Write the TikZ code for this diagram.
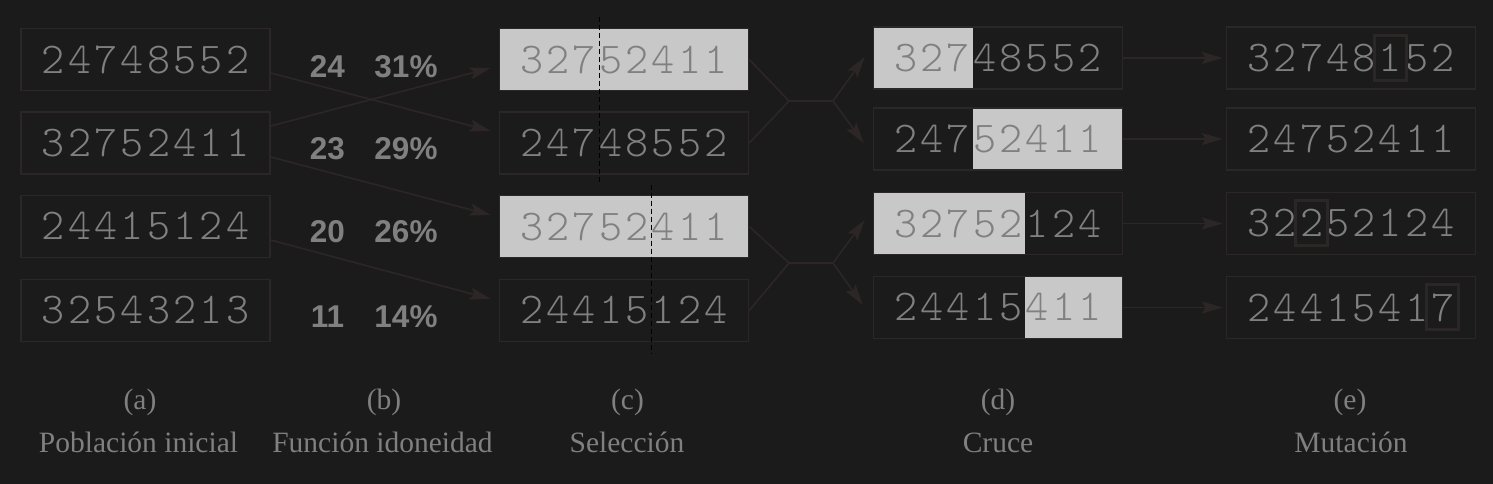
\documentclass[tikz,border=0pt]{standalone}
\usepackage{fontspec}
\setmainfont{Liberation Serif}
\setsansfont{Liberation Sans}
\newfontfamily\genfont[LetterSpace=7.3]{lmmonolt10-regular.otf}
\usetikzlibrary{arrows.meta, positioning, backgrounds}

\definecolor{bgc}{HTML}{1B1B1B}
\definecolor{edgec}{HTML}{2B2727}
\definecolor{arrc}{HTML}{2D2626}
\definecolor{hlc}{HTML}{C8C8C8}
\definecolor{txtc}{HTML}{808080}

\begin{document}
\begin{tikzpicture}[x=1pt, y=1pt, >=Stealth,
      gene/.style={draw=edgec, line width=1.5pt, minimum width=249pt, minimum height=62pt,
                   inner sep=0pt, text=txtc, font=\genfont\fontsize{44}{50}\selectfont},
      genehl/.style={gene, fill=hlc},
      fitv/.style={anchor=base, text=txtc, font=\sffamily\bfseries\fontsize{31.5}{36}\selectfont},
      capt/.style={anchor=base, text=txtc, font=\fontsize{29.5}{34}\selectfont},
      arr/.style={-{Stealth[length=21pt, width=12pt, inset=4pt]}, line width=1.6pt, draw=arrc},
      lnk/.style={line width=1.6pt, draw=arrc, line join=round},
      cut/.style={line width=1.6pt, draw=black, dash pattern=on 5pt off 3pt},
      hl/.style={fill=hlc},
      mutm/.style={draw=edgec, line width=3pt, minimum width=32pt, minimum height=45pt, inner sep=0pt}]

    \begin{scope}[on background layer]
      \fill[bgc] (0,0) rectangle (1493,484);
    \end{scope}
    \useasboundingbox (0,0) rectangle (1493,484);

    % (a) initial population
    \node[gene] (ini1) at (145.5, 424.5) {24748552};
    \node[gene] (ini2) at (145.5, 341)   {32752411};
    \node[gene] (ini3) at (145.5, 257.5) {24415124};
    \node[gene] (ini4) at (145.5, 173.5) {32543213};

    % (b) fitness values
    \node[fitv] (fv1) at (327.5, 406) {24};  \node[fitv] (pc1) at (406, 406) {31\%};
    \node[fitv] (fv2) at (327.5, 324) {23};  \node[fitv] (pc2) at (406, 324) {29\%};
    \node[fitv] (fv3) at (327.5, 241) {20};  \node[fitv] (pc3) at (406, 241) {26\%};
    \node[fitv] (fv4) at (327.5, 156) {11};  \node[fitv] (pc4) at (406, 156) {14\%};

    % (c) selection
    \node[genehl] (sel1) at (624, 424.5) {32752411};
    \node[gene]   (sel2) at (624, 341)   {24748552};
    \node[genehl] (sel3) at (624, 257.5) {32752411};
    \node[gene]   (sel4) at (624, 173.5) {24415124};

    \draw[cut] ([xshift=-24.5pt, yshift=11pt]sel1.north) -- ([xshift=-24.5pt, yshift=-9pt]sel2.south);
    \draw[cut] ([xshift=27.5pt, yshift=10pt]sel3.north) -- ([xshift=27.5pt, yshift=-11pt]sel4.south);

    \draw[arr] ([yshift=-13.5pt]ini1.east) -- ([xshift=-8pt, yshift=12pt]sel2.west);
    \draw[arr] ([yshift=17pt]ini2.east)    -- ([xshift=-8pt, yshift=-8.5pt]sel1.west);
    \draw[arr] ([yshift=-14pt]ini2.east)   -- ([xshift=-8pt, yshift=11.5pt]sel3.west);
    \draw[arr] ([yshift=-13.5pt]ini3.east) -- ([xshift=-8pt, yshift=11.5pt]sel4.west);

    % (d) crossover
    \node[gene] (cru1) at (998, 426)   {32748552};
    \node[gene] (cru2) at (998, 345)   {24752411};
    \node[gene] (cru3) at (998, 260.5) {32752124};
    \node[gene] (cru4) at (998, 176.5) {24415411};

    \begin{scope}[on background layer]
      \fill[hl] (cru1.south west) rectangle ([xshift=-25.5pt]cru1.north);
      \fill[hl] ([xshift=-25.5pt]cru2.south) rectangle (cru2.north east);
      \fill[hl] (cru3.south west) rectangle ([xshift=27pt]cru3.north);
      \fill[hl] ([xshift=27pt]cru4.south) rectangle (cru4.north east);
    \end{scope}

    \coordinate (j1) at (789, 383);  \coordinate (k1) at (833, 383);
    \coordinate (j2) at (789, 221);  \coordinate (k2) at (833, 221);

    \draw[lnk] (sel1.east) -- (j1) -- (sel2.east);
    \draw[lnk] (j1) -- (k1);
    \draw[arr] (k1) -- ([xshift=-8pt, yshift=1pt]cru1.west);
    \draw[arr] (k1) -- ([xshift=-9pt, yshift=-4pt]cru2.west);

    \draw[lnk] (sel3.east) -- (j2) -- (sel4.east);
    \draw[lnk] (j2) -- (k2);
    \draw[arr] (k2) -- ([xshift=-8pt, yshift=3.5pt]cru3.west);
    \draw[arr] (k2) -- ([xshift=-10pt, yshift=2.5pt]cru4.west);

    % (e) mutation
    \node[gene] (mut1) at (1351, 426)   {32748152};
    \node[gene] (mut2) at (1351, 345)   {24752411};
    \node[gene] (mut3) at (1351, 260.5) {32252124};
    \node[gene] (mut4) at (1351, 176.5) {24415417};

    \node[mutm] (mk1) at ([xshift=39pt]mut1.center)  {};
    \node[mutm] (mk3) at ([xshift=-39.5pt]mut3.center) {};
    \node[mutm] (mk4) at ([xshift=91.5pt]mut4.center) {};

    \foreach \i in {1,...,4}
      \draw[arr] (cru\i.east) -- ([xshift=-3pt]mut\i.west);

    % captions
    \node[capt] (la) at (140, 74.6)  {(a)};
    \node[capt] (lb) at (384, 74.6)  {(b)};
    \node[capt] (lc) at (627.5, 74.6) {(c)};
    \node[capt] (ld) at (998, 74.6)  {(d)};
    \node[capt] (le) at (1350, 74.6) {(e)};
    \node[capt] (ta) at (138.5, 31.3) {Población inicial};
    \node[capt] (tb) at (382.5, 31.3) {Función idoneidad};
    \node[capt] (tc) at (627, 31.3)   {Selección};
    \node[capt] (td) at (998, 31.3)   {Cruce};
    \node[capt] (te) at (1351, 31.3)  {Mutación};

\end{tikzpicture}
\end{document}
